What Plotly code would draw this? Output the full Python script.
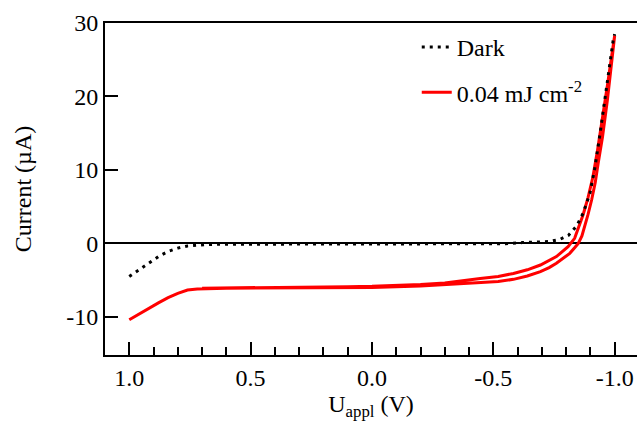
import plotly.graph_objects as go

# Dark I-V curve (V in volts, I in microamps)
dark_v = [1.0, 0.96, 0.92, 0.88, 0.84, 0.80, 0.76, 0.72, 0.68, 0.6, 0.4, 0.2, 0.0,
          -0.2, -0.4, -0.55, -0.62, -0.68, -0.73, -0.775, -0.81, -0.843, -0.87,
          -0.898, -0.919, -0.94, -0.953, -0.974, -0.994, -1.0]
dark_i = [-4.5, -3.6, -2.6, -1.8, -1.1, -0.65, -0.35, -0.2, -0.15, -0.12, -0.12,
          -0.12, -0.12, -0.12, -0.1, -0.05, 0.1, 0.2, 0.25, 0.55, 1.1, 2.35, 4.1,
          6.8, 10.4, 15.0, 18.1, 23.1, 27.7, 28.5]

# Illuminated curve: forward sweep (1.0 -> -1.0)
red_fwd_v = [1.0, 0.96, 0.92, 0.88, 0.84, 0.80, 0.76, 0.72, 0.6, 0.4, 0.2, 0.0,
             -0.2, -0.3, -0.4, -0.45, -0.52, -0.583, -0.64, -0.694, -0.73, -0.76,
             -0.79, -0.815, -0.835, -0.85, -0.865, -0.877, -0.89, -0.905, -0.92,
             -0.932, -0.95, -0.97, -0.985, -1.0]
red_fwd_i = [-10.4, -9.6, -8.85, -8.1, -7.4, -6.8, -6.35, -6.2, -6.1, -6.1, -6.05,
             -6.0, -5.8, -5.6, -5.45, -5.4, -5.2, -4.9, -4.45, -3.85, -3.3, -2.7,
             -2.0, -1.36, -0.6, 0.0, 1.0, 2.3, 3.9, 5.9, 8.3, 10.9, 14.5, 19.5,
             23.5, 28.3]
# Illuminated curve: reverse sweep (-1.0 -> 0.7)
red_bwd_v = [-1.0, -0.97, -0.95, -0.93, -0.91, -0.89, -0.87, -0.85, -0.835, -0.808,
             -0.76, -0.694, -0.64, -0.583, -0.52, -0.446, -0.38, -0.3, -0.2, -0.1,
             0.0, 0.1, 0.2, 0.3, 0.4, 0.5, 0.6, 0.7]
red_bwd_i = [28.3, 21.5, 17.0, 12.8, 9.0, 6.2, 3.9, 2.0, 0.68, -0.46, -1.8, -2.95,
             -3.6, -4.1, -4.5, -4.8, -5.1, -5.4, -5.6, -5.75, -5.85, -5.9, -5.95,
             -6.0, -6.0, -6.0, -6.05, -6.1]

x_tick_vals = [1.0, 0.5, 0.0, -0.5, -1.0]
x_tick_text = ["1.0", "0.5", "0.0", "-0.5", "-1.0"]
y_tick_vals = [-10, 0, 10, 20, 30]
y_tick_text = ["-10", "0", "10", "20", "30"]

FONT = "Liberation Serif"
FS = 24

red_v = red_fwd_v + red_bwd_v
red_i = red_fwd_i + red_bwd_i

fig = go.Figure()
fig.add_trace(go.Scatter(
    x=red_v, y=red_i, mode="lines", name="0.04 mJ cm<sup>-2</sup>",
    line=dict(color="#ff0000", width=3), legendgroup="b", legendrank=2))
fig.add_trace(go.Scatter(
    x=dark_v, y=dark_i, mode="lines", name="Dark",
    line=dict(color="black", width=3, dash="3px,5px"), legendgroup="a", legendrank=1))

fig.update_layout(
    width=637, height=427,
    margin=dict(l=105, r=0, t=23, b=72),
    paper_bgcolor="white", plot_bgcolor="white",
    font=dict(family=FONT, size=FS, color="black"),
    showlegend=True,
    legend=dict(x=0.586, y=0.994, xanchor="left", yanchor="top",
                bgcolor="rgba(0,0,0,0)", tracegroupgap=11,
                font=dict(family=FONT, size=FS, color="black")),
    xaxis=dict(
        range=[1.1, -1.092], tickmode="array", tickvals=x_tick_vals, ticktext=x_tick_text,
        ticks="inside", ticklen=13, tickwidth=1.5, tickcolor="black",
        showline=True, linecolor="black", linewidth=2, mirror=True,
        showgrid=False, zeroline=False,
        minor=dict(dtick=0.1, tick0=0, ticks="inside", ticklen=8, tickwidth=1.5,
                   tickcolor="black", showgrid=False),
        title=dict(text="U<sub>appl</sub> (V)", standoff=5,
                   font=dict(family=FONT, size=FS, color="black")),
        tickfont=dict(family=FONT, size=FS, color="black"),
    ),
    yaxis=dict(
        range=[-15.2, 30], tickmode="array", tickvals=y_tick_vals, ticktext=y_tick_text,
        ticks="inside", ticklen=13, tickwidth=1.5, tickcolor="black",
        showline=True, linecolor="black", linewidth=2, mirror=False,
        showgrid=False, zeroline=True, zerolinecolor="black", zerolinewidth=1.5,
        title=dict(text="Current (µA)", standoff=28,
                   font=dict(family=FONT, size=FS, color="black")),
        tickfont=dict(family=FONT, size=FS, color="black"),
    ),
)

fig.write_html("out.html")
